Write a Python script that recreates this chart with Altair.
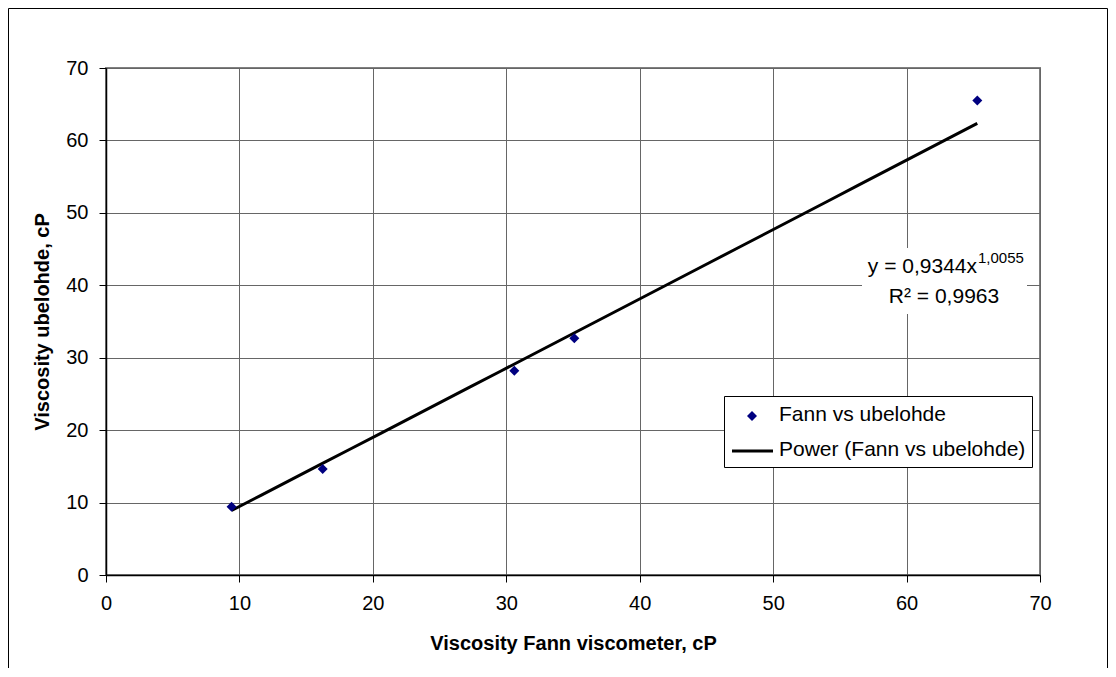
import altair as alt
import pandas as pd

# ---- data ----
fann = [9.41, 16.24, 30.6, 35.1, 65.3]          # Viscosity Fann viscometer, cP
ubelohde = [9.43, 14.64, 28.2, 32.7, 65.5]      # Viscosity ubelohde, cP
x_ticks = [0, 10, 20, 30, 40, 50, 60, 70]
y_ticks = [0, 10, 20, 30, 40, 50, 60, 70]
series_points = "Fann vs ubelohde"
series_trend = "Power (Fann vs ubelohde)"
eq_main = "y = 0,9344x"
eq_exp = "1,0055"
eq_r2 = "R\u00b2 = 0,9963"
x_title = "Viscosity Fann viscometer, cP"
y_title = "Viscosity ubelohde, cP"

df = pd.DataFrame({"fann": fann, "ubelohde": ubelohde})
one = pd.DataFrame({"k": [0]})

W, H = 934, 507
FONT = "Liberation Sans"
NAVY = "#000080"

xscale = alt.Scale(domain=[0, 70], nice=False, zero=True)
yscale = alt.Scale(domain=[0, 70], nice=False, zero=True)

xaxis = alt.Axis(values=x_ticks, title=x_title, grid=True, format="d",
                 tickSize=7, labelPadding=11, labelFlush=False,
                 titleY=68, titleBaseline="middle", titleAnchor="middle")
yaxis = alt.Axis(values=y_ticks, title=y_title, grid=True, format="d",
                 tickSize=7, labelPadding=11, labelFlush=False,
                 titleX=-64, titleY=H / 2, titleAngle=270, titleAlign="center",
                 titleBaseline="middle", titleAnchor="middle")

X = alt.X("fann:Q", scale=xscale, axis=xaxis)
Y = alt.Y("ubelohde:Q", scale=yscale, axis=yaxis)

# outer chart frame
frame = alt.Chart(one).mark_rect(fillOpacity=0, stroke="black", strokeWidth=1, clip=False).encode(
    x=alt.value(-97.5), x2=alt.value(1001.5), y=alt.value(-59.5), y2=alt.value(650)
)

# trendline computed by the library (power regression)
trend = alt.Chart(df).transform_regression(
    "fann", "ubelohde", method="pow"
).mark_line(color="black", strokeWidth=3).encode(x=X, y=Y)

points = alt.Chart(df).mark_point(shape="diamond", filled=True, color=NAVY, size=100, opacity=1).encode(
    x=X, y=Y
)

# equation annotation
eq_bg = alt.Chart(one).mark_rect(fill="white", stroke=None).encode(
    x=alt.value(756), x2=alt.value(921), y=alt.value(180), y2=alt.value(246)
)
eq1 = alt.Chart(one).mark_text(align="right", baseline="alphabetic", font=FONT, fontSize=21, color="black").encode(
    x=alt.value(871), y=alt.value(205), text=alt.value(eq_main)
)
eq2 = alt.Chart(one).mark_text(align="left", baseline="alphabetic", font=FONT, fontSize=15, color="black").encode(
    x=alt.value(872), y=alt.value(195), text=alt.value(eq_exp)
)
eq3 = alt.Chart(one).mark_text(align="center", baseline="alphabetic", font=FONT, fontSize=21, color="black").encode(
    x=alt.value(838), y=alt.value(235), text=alt.value(eq_r2)
)

# manual legend
leg_box = alt.Chart(one).mark_rect(fill="white", stroke="black", strokeWidth=1).encode(
    x=alt.value(618.5), x2=alt.value(926.5), y=alt.value(328.5), y2=alt.value(399.5)
)
leg_pt = alt.Chart(one).mark_point(shape="diamond", filled=True, color=NAVY, size=100, opacity=1).encode(
    x=alt.value(646), y=alt.value(348)
)
leg_ln = alt.Chart(one).mark_rule(color="black", strokeWidth=3).encode(
    x=alt.value(626), x2=alt.value(667), y=alt.value(383)
)
leg_t1 = alt.Chart(one).mark_text(align="left", baseline="alphabetic", font=FONT, fontSize=21, color="black").encode(
    x=alt.value(673), y=alt.value(353), text=alt.value(series_points)
)
leg_t2 = alt.Chart(one).mark_text(align="left", baseline="alphabetic", font=FONT, fontSize=21, color="black").encode(
    x=alt.value(673), y=alt.value(388), text=alt.value(series_trend)
)

chart = alt.layer(
    frame, trend, points, eq_bg, eq1, eq2, eq3, leg_box, leg_pt, leg_ln, leg_t1, leg_t2
).properties(
    width=W, height=H,
    autosize=alt.AutoSizeParams(type="none"),
    padding={"left": 98, "top": 60, "right": 68, "bottom": 93},
    background="white",
).configure_view(
    stroke="#808080", strokeWidth=2
).configure_axis(
    domainColor="black", domainWidth=1.5, tickColor="black", tickWidth=1,
    gridColor="#666666", gridWidth=1,
    labelFont=FONT, labelFontSize=20, labelColor="black",
    titleFont=FONT, titleFontSize=20, titleFontWeight="bold", titleColor="black",
)

chart.save("out.html", embed_options={"renderer": "svg", "actions": False})
